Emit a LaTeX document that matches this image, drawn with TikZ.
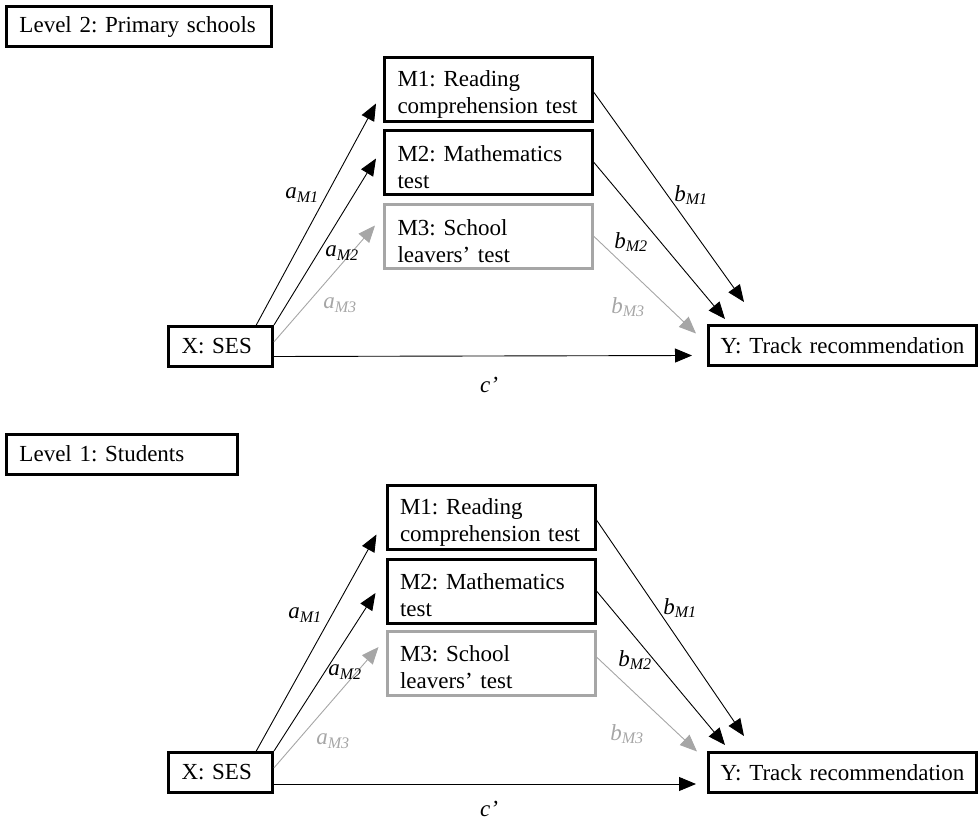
\documentclass[tikz,border=0pt]{standalone}
\usepackage{fontspec}
\setmainfont{Liberation Serif}
\usepackage{tikz}
\usetikzlibrary{arrows.meta,calc}
\definecolor{medgrey}{RGB}{166,166,166}
\newcommand{\figfont}{\fontsize{23}{27}\selectfont\frenchspacing}
\newcommand{\pcoef}[2]{\textit{#1}\textsubscript{\textit{#2}}}
\tikzset{
  levelbox/.style={draw, line width=3pt, align=left, inner xsep=13pt, inner ysep=2pt, minimum height=40pt, font=\figfont},
  varbox/.style={draw, line width=3pt, align=left, inner xsep=13pt, inner ysep=2pt, minimum height=40pt, font=\figfont},
  medbox/.style={varbox, text width=182pt, minimum height=64pt, execute at begin node={\rule{0pt}{25pt}}},
  greymedbox/.style={medbox, draw=medgrey},
  outcome/.style={varbox, text width=250pt, inner xsep=9pt, align=center},
  arrow/.style={-{Triangle[length=17pt,width=14pt]}, line width=0.9pt},
  greyarrow/.style={arrow, draw=medgrey},
  coef/.style={font=\figfont, inner sep=1pt},
  greycoef/.style={coef, text=medgrey}
}

\begin{document}
\begin{tikzpicture}[x=1pt, y=-1pt]
  \useasboundingbox (0,0) rectangle (980,821);
  % Level 2: primary schools
  \node[levelbox, text width=239pt] (lvltwo) at (139,27) {Level 2: Primary schools};
  \node[varbox, text width=78pt] (xtop) at (220.5,346.5) {X: SES};
  \node[medbox] (m1top) at (488.5,89.5) {M1: Reading\\comprehension test};
  \node[medbox] (m2top) at (488.5,162.5) {M2: Mathematics\\test};
  \node[greymedbox] (m3top) at (488.5,236.5) {M3: School\\leavers’ test};
  \node[outcome] (ytop) at (842.5,345.5) {Y: Track recommendation};
  \draw[arrow] (xtop.31) -- ($(m1top.west)+(-7,14)$);
  \draw[arrow] (xtop.north east) -- ($(m2top.west)+(-7,-4)$);
  \draw[greyarrow] (xtop.5) -- ($(m3top.west)+(-8,-11)$);
  \draw[arrow] ($(m1top.east)+(0,3)$) -- ($(ytop.north west)+(37,-22)$);
  \draw[arrow] (m2top.east) -- ($(ytop.north west)+(18,-5)$);
  \draw[greyarrow] (m3top.east) -- ($(ytop.west)+(-11,-12)$);
  \draw[arrow] ($(xtop.east)+(0,10)$) -- ($(ytop.west)+(-15,10)$);
  \node[coef] (am1top) at (302,195) {\pcoef{a}{M1}};
  \node[coef] (am2top) at (342,253) {\pcoef{a}{M2}};
  \node[greycoef] (am3top) at (340,305) {\pcoef{a}{M3}};
  \node[coef] (bm1top) at (691,195) {\pcoef{b}{M1}};
  \node[coef] (bm2top) at (631,242) {\pcoef{b}{M2}};
  \node[greycoef] (bm3top) at (628,307) {\pcoef{b}{M3}};
  \node[coef] (ctop) at (489,385) {\textit{c’}};
  % Level 1: students
  \node[levelbox, text width=205pt] (lvlone) at (122,454) {Level 1: Students};
  \node[varbox, text width=78pt] (xbot) at (220.5,772.5) {X: SES};
  \node[medbox] (m1bot) at (491,517.5) {M1: Reading\\comprehension test};
  \node[medbox] (m2bot) at (491,591) {M2: Mathematics\\test};
  \node[greymedbox] (m3bot) at (491,663) {M3: School\\leavers’ test};
  \node[outcome] (ybot) at (842.5,772.5) {Y: Track recommendation};
  \draw[arrow] (xbot.31) -- ($(m1bot.west)+(-9,17)$);
  \draw[arrow] (xbot.north east) -- ($(m2bot.west)+(-10,2)$);
  \draw[greyarrow] (xbot.5) -- ($(m3bot.west)+(-7,-16)$);
  \draw[arrow] ($(m1bot.east)+(0,2.5)$) -- ($(ybot.north west)+(37,-15)$);
  \draw[arrow] (m2bot.east) -- ($(ybot.north west)+(18,-6)$);
  \draw[greyarrow] ($(m3bot.east)+(0,-6)$) -- ($(ybot.west)+(-10,-21)$);
  \draw[arrow] ($(xbot.east)+(0,11.5)$) -- ($(ybot.west)+(-11,11.5)$);
  \node[coef] (am1bot) at (305,615) {\pcoef{a}{M1}};
  \node[coef] (am2bot) at (345,672) {\pcoef{a}{M2}};
  \node[greycoef] (am3bot) at (333,741) {\pcoef{a}{M3}};
  \node[coef] (bm1bot) at (680,608) {\pcoef{b}{M1}};
  \node[coef] (bm2bot) at (635,660) {\pcoef{b}{M2}};
  \node[greycoef] (bm3bot) at (627,734) {\pcoef{b}{M3}};
  \node[coef] (cbot) at (489,809) {\textit{c’}};
\end{tikzpicture}
\end{document}
